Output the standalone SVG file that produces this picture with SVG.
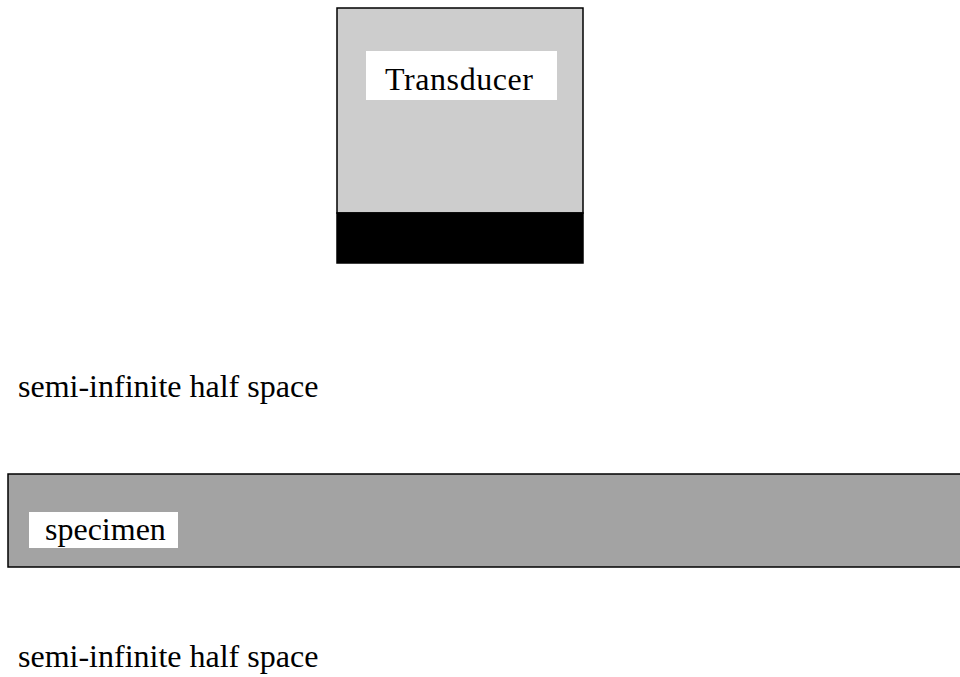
<svg xmlns="http://www.w3.org/2000/svg" width="960" height="677" viewBox="0 0 960 677">
<defs>
<style>
.t{font-family:"Liberation Serif","Times New Roman",serif;font-size:32px;fill:#000}
.lbl{fill:#fff;stroke:none}
</style>
</defs>
<rect width="960" height="677" fill="#fff"/>
<g id="transducer">
<rect x="337" y="8" width="246" height="205" fill="#cdcdcd" stroke="#000" stroke-width="1.5"/>
<rect x="337" y="213" width="246" height="50" fill="#000" stroke="#000" stroke-width="1.5"/>
<rect class="lbl" x="366" y="51" width="191" height="49"/>
<text class="t" x="385" y="90" textLength="148">Transducer</text>
</g>
<g id="upper-half-space">
<text class="t" x="18" y="397">semi-infinite half space</text>
</g>
<g id="specimen">
<rect x="8" y="474" width="960" height="93" fill="#a3a3a3" stroke="#000" stroke-width="1.5"/>
<rect class="lbl" x="29" y="512" width="149" height="36"/>
<text class="t" x="45" y="540">specimen</text>
</g>
<g id="lower-half-space">
<text class="t" x="18" y="667">semi-infinite half space</text>
</g>
<g id="connectors"/>
</svg>
